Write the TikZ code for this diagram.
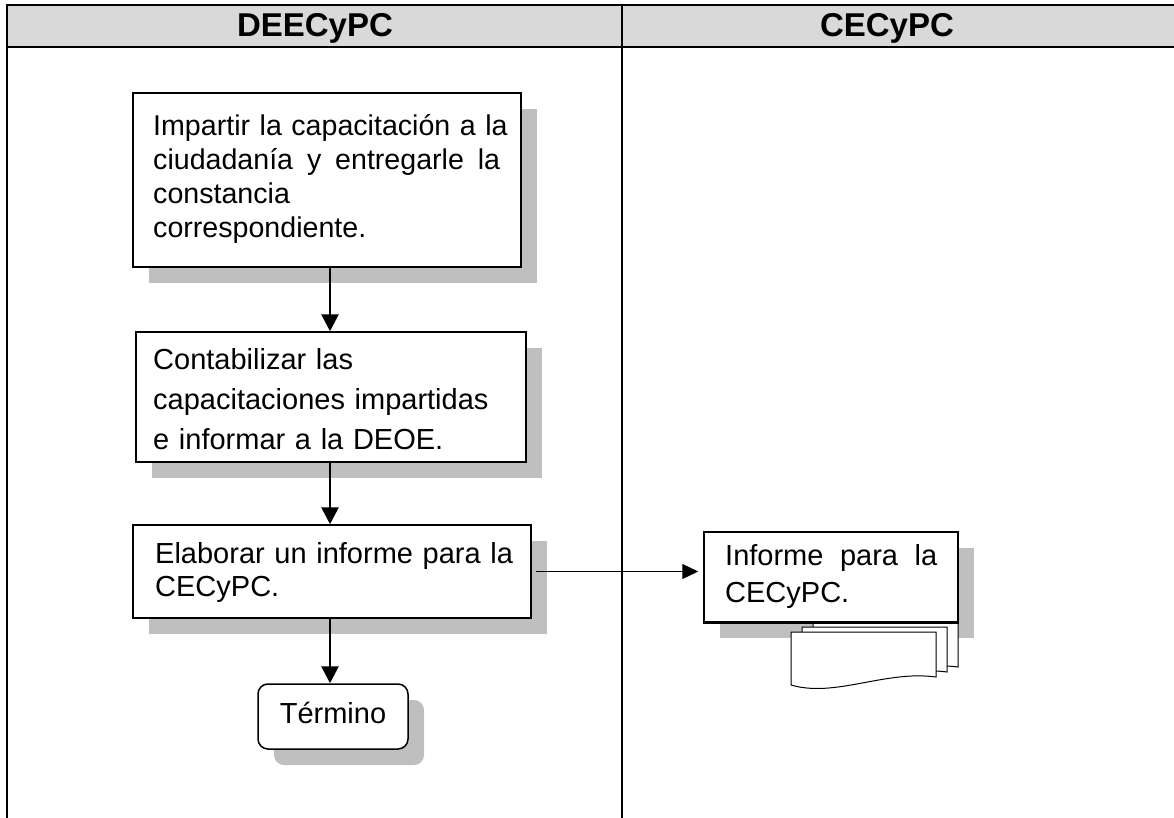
\documentclass[tikz,border=0pt]{standalone}
\usepackage{fontspec}
\setmainfont{Liberation Sans}
\usetikzlibrary{arrows.meta,shadows,calc}
\definecolor{hdrgray}{RGB}{217,217,217}
\definecolor{shgray}{RGB}{191,191,191}
\begin{document}
\begin{tikzpicture}[x=1pt,y=-1pt,
  box/.style={draw, line width=1.5pt, fill=white, inner sep=0pt,
    drop shadow={shadow xshift=16pt, shadow yshift=-16pt, fill=shgray, opacity=1}},
  txt/.style={anchor=base west, inner sep=0pt, align=left, text width=#1,
    font=\fontsize{29}{33}\selectfont},
  varrow/.style={line width=2.8pt, -{Triangle[length=17pt,width=17pt]}},
  harrow/.style={line width=1.1pt, -{Triangle[length=16pt,width=15pt]}},
  page/.style={draw, line width=1pt, fill=white},
  lane/.style={line width=2.2pt},
  hdr/.style={anchor=base, inner sep=0pt, font=\fontsize{33}{37}\selectfont\bfseries}
]
\useasboundingbox (0,0) rectangle (1174,818);
% swimlane table
\fill[hdrgray] (7,5) rectangle (1180,47);
\draw[lane] (1180,5) -- (7,5) -- (7,830);
\draw[lane] (7,47) -- (1180,47);
\draw[lane] (622,5) -- (622,830);
\node[hdr] (h1) at (315,37) {DEECyPC};
\node[hdr] (h2) at (887,37) {CECyPC};

% boxes
\node[box, minimum width=388pt, minimum height=174pt] (b1) at (327,180) {};
\node[txt=380pt, font=\fontsize{28.6}{34}\selectfont] (t1) at (153,136) {Impartir la capacitación a la\\
  \leavevmode\hbox to 347pt{ciudadanía\hfill y\hfill entregarle\hfill la}\\
  constancia\\
  correspondiente.};

\node[box, minimum width=390pt, minimum height=130pt] (b2) at (331,397) {};
\node[txt=380pt, font=\fontsize{29}{40}\selectfont] (t2) at (153,369) {Contabilizar las\\
  capacitaciones impartidas\\
  e informar a la DEOE.};

\node[box, minimum width=398pt, minimum height=93pt] (b3) at (332,571.5) {};
\node[txt=380pt] (t3) at (155,563) {Elaborar un informe para la\\ CECyPC.};

\node[box, rounded corners=10pt, minimum width=150pt, minimum height=65pt,
  text height=20pt, text depth=7pt, font=\fontsize{29}{33}\selectfont] (term) at (333,716.5) {Término};

% document with stacked pages
\node[box, minimum width=254pt, minimum height=90pt] (doc) at (831,577) {};
\foreach \s in {2,1,0}{
  \begin{scope}[shift={(11*\s,-5*\s)}]
    \draw[page] (791,632) -- (936,632) -- (936,677)
      .. controls (885,670) and (835,698) .. (791,685) -- cycle;
  \end{scope}
}
\draw[line width=1.5pt] (doc.south west) -- (doc.south east);
\node[txt=240pt, font=\fontsize{29}{37}\selectfont] (t4) at (725,565) {\leavevmode\hbox to 212pt{Informe\hfill para\hfill la}\\ CECyPC.};

% connectors
\coordinate (cx) at (330,0);
\draw[varrow] (b1.south -| cx) -- (b2.north -| cx);
\draw[varrow] (b2.south -| cx) -- (b3.north -| cx);
\draw[varrow] (b3.south -| cx) -- (term.north -| cx);
\draw[harrow, shorten <=4pt, shorten >=5pt] (b3.east) -- (b3.east -| doc.west);
\end{tikzpicture}
\end{document}
